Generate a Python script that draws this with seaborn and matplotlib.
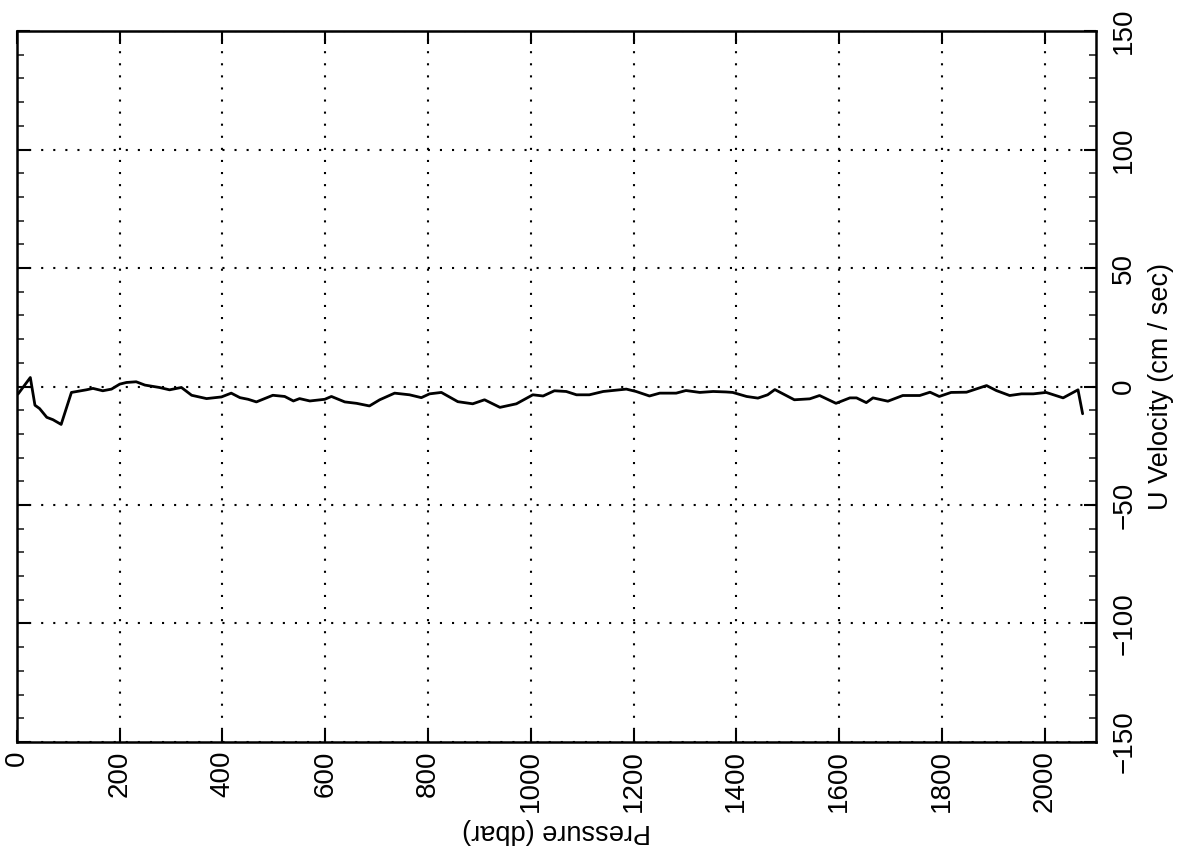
import numpy as np
import pandas as pd
import matplotlib
matplotlib.use("Agg")
import matplotlib.pyplot as plt
from matplotlib.ticker import MultipleLocator
import seaborn as sns

# Data (pressure in dbar, U velocity in cm/s)
pressure = [2, 26, 35, 44, 58, 70, 86, 106, 135, 148, 167, 184, 200, 213, 232, 249,
            277, 297, 320, 340, 369, 398, 417, 434, 450, 466, 498, 521, 538, 550, 570,
            599, 612, 638, 661, 686, 706, 735, 764, 787, 803, 826, 858, 887, 910, 940,
            972, 1004, 1024, 1046, 1069, 1089, 1114, 1141, 1186, 1205, 1231, 1251, 1283,
            1302, 1329, 1355, 1380, 1393, 1420, 1442, 1461, 1475, 1513, 1543, 1562, 1594,
            1621, 1634, 1653, 1666, 1695, 1724, 1757, 1777, 1795, 1818, 1848, 1887, 1906,
            1932, 1955, 1978, 2003, 2036, 2065, 2074]
u_velocity = [-3.2, 3.8, -7.9, -9.3, -13.0, -14.0, -16.0, -2.5, -1.4, -0.8, -1.8, -1.1,
              1.0, 1.7, 2.0, 0.6, -0.4, -1.4, -0.4, -3.7, -5.1, -4.4, -2.8, -4.7, -5.4,
              -6.5, -3.7, -4.2, -6.1, -5.1, -6.1, -5.4, -4.2, -6.5, -7.1, -8.2, -5.6,
              -2.8, -3.5, -4.7, -3.1, -2.5, -6.4, -7.3, -5.6, -8.8, -7.3, -3.5, -4.0,
              -1.8, -2.1, -3.5, -3.5, -2.1, -1.1, -2.1, -4.0, -2.8, -2.8, -1.7, -2.5,
              -2.1, -2.3, -2.5, -4.2, -4.9, -3.5, -1.3, -5.6, -5.2, -3.8, -7.1, -4.8,
              -4.8, -6.8, -4.8, -6.2, -3.8, -3.8, -2.4, -4.2, -2.5, -2.4, 0.4, -1.7,
              -3.8, -3.1, -3.1, -2.5, -4.8, -1.4, -11.5]

x_ticks = [0, 200, 400, 600, 800, 1000, 1200, 1400, 1600, 1800, 2000]
y_ticks = [-150, -100, -50, 0, 50, 100, 150]
x_label = "Pressure (dbar)"
y_label = "U Velocity (cm / sec)"

df = pd.DataFrame({"Pressure": pressure, "U": u_velocity})

sns.set_style("ticks")
plt.rcParams["font.family"] = ["Liberation Sans", "DejaVu Sans"]

fig = plt.figure(figsize=(11.86, 8.57), dpi=100)
ax = fig.add_axes([0.0143, 0.1342, 0.9098, 0.8296])

sns.lineplot(data=df, x="Pressure", y="U", ax=ax, color="black", linewidth=2.0,
             estimator=None, sort=False)

ax.set_xlim(0, 2100)
ax.set_ylim(-150, 150)
ax.set_xticks(x_ticks)
ax.set_yticks(y_ticks)
ax.yaxis.set_minor_locator(MultipleLocator(10))

ax.grid(True, which="major", color="black", linestyle=(0, (1, 4.8)), linewidth=1.5)
ax.set_axisbelow(True)

ax.yaxis.tick_right()
ax.yaxis.set_label_position("right")
ax.tick_params(axis="both", which="major", direction="in", length=9, width=1.5,
               top=True, bottom=True, left=True, right=True, labelsize=20, colors="black")
ax.tick_params(axis="y", which="minor", direction="in", length=5, width=1.2,
               left=True, right=True)
ax.tick_params(axis="x", which="major", pad=6)
ax.tick_params(axis="y", which="major", pad=11)

for lab in ax.get_xticklabels():
    lab.set_rotation(90)
    lab.set_ha("center")
    lab.set_va("top")
for lab in ax.get_yticklabels():
    lab.set_rotation(90)
    lab.set_ha("left")
    lab.set_va("center")

for s in ax.spines.values():
    s.set_visible(True)
    s.set_linewidth(1.8)
    s.set_color("black")

ax.set_xlabel(x_label, fontsize=19.5, rotation=180, labelpad=4, color="black")
ax.set_ylabel(y_label, fontsize=19.5, rotation=90, labelpad=8, color="black")

fig.savefig("out.png", dpi=100, facecolor="white")
